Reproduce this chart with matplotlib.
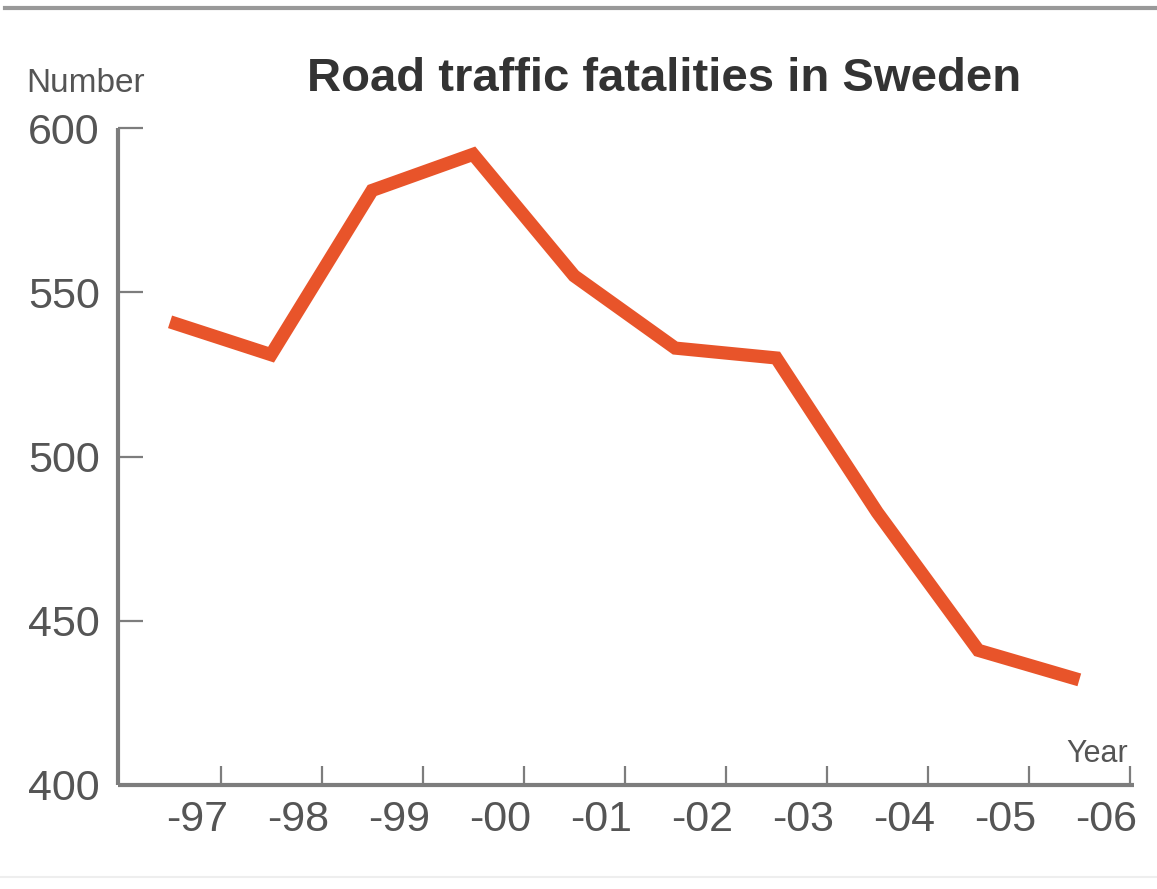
import numpy as np
import matplotlib
matplotlib.use("Agg")
import matplotlib.pyplot as plt
from matplotlib.lines import Line2D

# values
years = [1997, 1998, 1999, 2000, 2001, 2002, 2003, 2004, 2005, 2006]
year_labels = ["-97", "-98", "-99", "-00", "-01", "-02", "-03", "-04", "-05", "-06"]
fatalities = [541, 531, 581, 592, 555, 533, 530, 483, 441, 432]
y_ticks = [400, 450, 500, 550, 600]

plt.rcParams["font.family"] = ["Liberation Sans", "DejaVu Sans"]

axis_grey = "#7d7d7d"
text_grey = "#555555"
line_col = "#e8542a"

fig = plt.figure(figsize=(11.57, 8.89), dpi=100)
ax = fig.add_axes([0.102, 0.117, 0.878, 0.739])

yrs = np.array(years)
ax.plot(yrs, fatalities, color=line_col, lw=9.5, solid_joinstyle="miter",
        solid_capstyle="butt", clip_on=False, zorder=3)

ax.set_xlim(yrs[0] - 0.515, yrs[-1] + 0.54)
ax.set_ylim(400, 600)

for side in ["top", "right"]:
    ax.spines[side].set_visible(False)
for side in ["left", "bottom"]:
    ax.spines[side].set_color(axis_grey)
    ax.spines[side].set_linewidth(3)
    ax.spines[side].set_capstyle("butt")

ax.set_yticks(y_ticks)
ax.set_yticklabels([str(v) for v in y_ticks])
ax.tick_params(axis="y", direction="in", length=18, width=1.6, color=axis_grey,
               labelsize=31, labelcolor=text_grey, pad=13)

# labels sit between point and tick mark; tick marks sit half way between years
ax.set_xticks(yrs + 0.27)
ax.set_xticklabels(year_labels)
ax.tick_params(axis="x", which="major", length=0, labelsize=31,
               labelcolor=text_grey, pad=11)
ax.set_xticks(yrs + 0.5, minor=True)
ax.tick_params(axis="x", which="minor", direction="in", length=14, width=1.6,
               color=axis_grey)

fig.text(0.574, 0.911, "Road traffic fatalities in Sweden", ha="center",
         va="center", fontsize=34, fontweight="bold", color="#333333")
fig.text(0.023, 0.906, "Number", ha="left", va="center", fontsize=24,
         color=text_grey)
fig.text(0.975, 0.152, "Year", ha="right", va="center", fontsize=22,
         color=text_grey)

# thin frame lines of the original screenshot
fig.add_artist(Line2D([0.004, 1.0], [0.991, 0.991], color="#999999", lw=3,
                      transform=fig.transFigure))
fig.add_artist(Line2D([0.0, 1.0], [0.013, 0.013], color="#eeeeee", lw=1.5,
                      transform=fig.transFigure))

fig.savefig("out.png", dpi=100)
